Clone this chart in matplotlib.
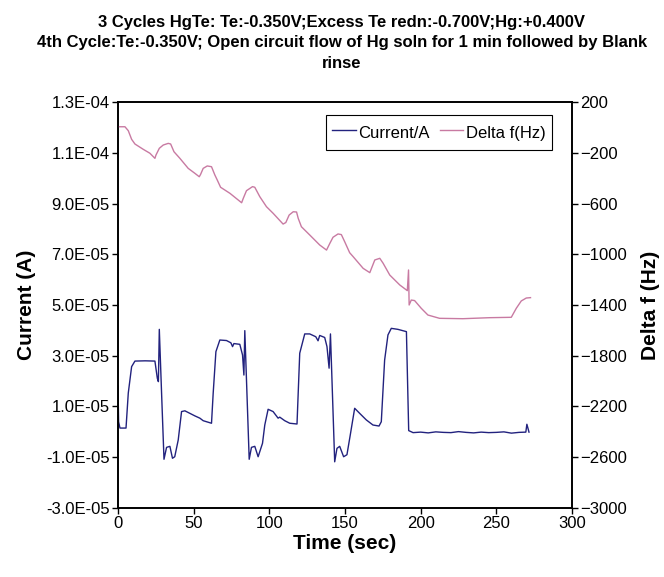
import matplotlib
matplotlib.use("Agg")
import matplotlib.pyplot as plt
from matplotlib.ticker import FuncFormatter, FixedLocator

plt.rcParams['font.family'] = ['Liberation Sans', 'DejaVu Sans']

# Current trace (time in s, current in units of 1e-5 A)
cur_t = [0.0, 0.4, 1.3, 5.3, 6.8, 9.0, 11.2, 18.0, 24.4, 26.0, 26.7, 27.3, 28.8, 30.4,
         32.1, 34.3, 36.0, 37.5, 39.8, 42.0, 44.2, 47.5, 50.8, 54.1, 56.3, 61.8,
         62.9, 64.7, 67.3, 71.7, 74.6, 75.7, 76.6, 80.5, 82.3, 83.2, 83.8, 86.7,
         88.2, 90.4, 92.6, 95.5, 97.0, 99.2, 102.5, 105.8, 106.9, 110.2, 113.5, 118.3,
         120.1, 123.4, 126.7, 130.7, 132.2, 133.3, 136.6, 138.1, 139.5, 140.4, 143.2,
         144.7, 146.5, 149.1, 151.3, 153.5, 156.4, 159.7, 164.1, 168.5, 172.5, 174.0,
         176.2, 178.4, 180.6, 185.0, 190.6, 192.1,
         195.0, 200.0, 205.0, 210.0, 215.0, 220.0, 225.0, 230.0, 235.0, 240.0, 245.0,
         250.0, 255.0, 260.0, 265.0, 269.5, 270.2, 271.6]
cur_v = [1.8, 0.4, 0.15, 0.15, 1.53, 2.57, 2.79, 2.80, 2.79, 2.11, 1.98, 4.04, 1.53, -1.08,
         -0.61, -0.57, -1.04, -0.98, -0.32, 0.80, 0.83, 0.73, 0.63, 0.54, 0.44, 0.34,
         1.52, 3.16, 3.62, 3.60, 3.51, 3.36, 3.48, 3.45, 3.03, 2.24, 3.99, -1.08,
         -0.61, -0.57, -0.98, -0.45, 0.27, 0.89, 0.80, 0.54, 0.58, 0.44, 0.34, 0.31,
         3.10, 3.86, 3.86, 3.75, 3.59, 3.80, 3.72, 3.36, 2.51, 3.86, -1.18,
         -0.65, -0.57, -0.98, -0.90, -0.12, 0.93, 0.73, 0.47, 0.27, 0.23, 0.40,
         2.83, 3.82, 4.08, 4.04, 3.95, 0.05,
         -0.03, -0.01, -0.04, 0.0, -0.02, -0.03, 0.01, -0.02, -0.04, -0.01, -0.03,
         -0.02, 0.0, -0.05, -0.02, -0.01, 0.30, -0.01]

# Frequency shift trace (time in s, delta f in Hz)
df_t = [0.2, 4.6, 6.8, 9.0, 11.2, 16.7, 21.1, 24.4, 25.1, 27.3, 29.9, 33.2, 34.8, 37.0,
        40.9, 46.4, 50.8, 53.7, 54.6, 56.3, 59.0, 61.8, 64.0, 65.6, 67.8, 74.0, 81.7,
        82.8, 84.9, 88.9, 90.4, 93.7, 98.1, 102.5, 109.1, 110.9, 113.1, 115.8, 118.0,
        119.1, 121.2, 126.7, 133.3, 137.8, 140.0, 142.1, 145.4, 147.6, 149.8, 153.1,
        155.4, 162.0, 166.4, 169.7, 173.0, 175.2, 179.6, 186.2, 191.2, 192.0, 192.4,
        193.8, 196.0, 200.4, 204.8, 212.5, 227.9, 245.5, 259.9, 263.2, 266.5, 269.8,
        272.6]
df_v = [5, 5, -26, -94, -131, -173, -204, -244, -218, -165, -139, -126, -131, -192,
        -244, -323, -362, -389, -370, -323, -304, -310, -375, -415, -472, -520, -594,
        -559, -499, -467, -472, -546, -625, -677, -762, -750, -691, -665, -667,
        -717, -783, -848, -927, -967, -914, -866, -840, -845, -901, -988,
        -1019, -1111, -1145, -1045, -1032, -1071, -1164, -1242, -1287, -1124, -1400,
        -1361, -1365, -1426, -1479, -1505, -1508, -1500, -1497, -1426, -1368, -1345,
        -1342]

x_ticks = [0, 50, 100, 150, 200, 250, 300]
cur_ticks = [-3e-5, -1e-5, 1e-5, 3e-5, 5e-5, 7e-5, 9e-5, 1.1e-4, 1.3e-4]
df_ticks = [-3000, -2600, -2200, -1800, -1400, -1000, -600, -200, 200]

cur_a = [v * 1e-5 for v in cur_v]

fig = plt.figure(figsize=(6.64, 5.77), dpi=100)
ax = fig.add_axes([0.1777, 0.1196, 0.6837, 0.7036])
ax2 = ax.twinx()

l1, = ax.plot(cur_t, cur_a, color='#22227e', lw=1.0, label='Current/A')
l2, = ax2.plot(df_t, df_v, color='#c87aa2', lw=1.0, label='Delta f(Hz)')

ax.set_xlim(x_ticks[0], x_ticks[-1])
ax.set_ylim(cur_ticks[0], cur_ticks[-1])
ax2.set_ylim(df_ticks[0], df_ticks[-1])
ax.xaxis.set_major_locator(FixedLocator(x_ticks))
ax.yaxis.set_major_locator(FixedLocator(cur_ticks))
ax2.yaxis.set_major_locator(FixedLocator(df_ticks))
ax.yaxis.set_major_formatter(FuncFormatter(lambda v, p: f"{v:.1E}"))

for a in (ax, ax2):
    a.tick_params(direction='out', length=4, width=1, labelsize=12, pad=2)
    for s in a.spines.values():
        s.set_linewidth(1.2)

ax.set_xlabel('Time (sec)', fontsize=15, fontweight='bold', labelpad=2)
ax.set_ylabel('Current (A)', fontsize=15, fontweight='bold', labelpad=7)
ax2.set_ylabel('Delta f (Hz)', fontsize=15, fontweight='bold', labelpad=10)

fig.text(0.515, 0.974,
         "3 Cycles HgTe: Te:-0.350V;Excess Te redn:-0.700V;Hg:+0.400V\n"
         "4th Cycle:Te:-0.350V; Open circuit flow of Hg soln for 1 min followed by Blank\n"
         "rinse",
         ha='center', va='top', fontsize=12, fontweight='bold', linespacing=1.45)

leg = ax.legend([l1, l2], ['Current/A', 'Delta f(Hz)'], loc='upper right',
                bbox_to_anchor=(0.956, 0.968), ncol=2, fontsize=12, fancybox=False,
                edgecolor='black', framealpha=1, handlelength=1.4, columnspacing=0.6,
                handletextpad=0.15, borderpad=0.4, handleheight=1.6, borderaxespad=0)
leg.get_frame().set_linewidth(0.8)

fig.savefig('out.png', dpi=100)
